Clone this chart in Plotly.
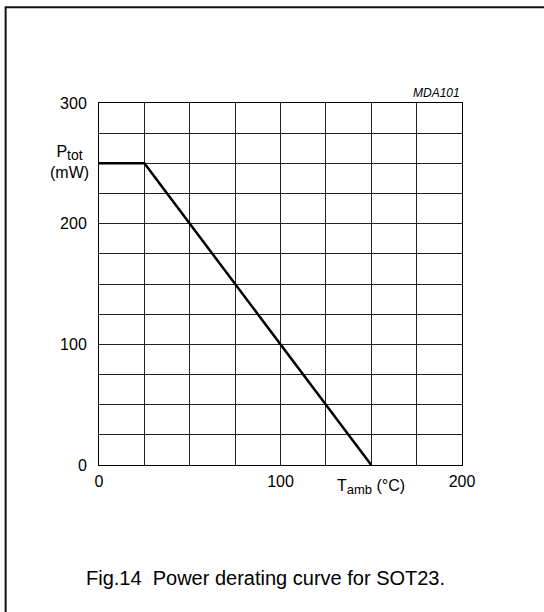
import plotly.graph_objects as go

# Power derating curve data (ambient temperature in °C, total power in mW)
t_amb = [0, 25, 150]
p_tot = [250, 250, 0]

x_ticks = [0, 100, 200]
y_ticks = [0, 100, 200, 300]

W, H = 544, 612
left, right, top, bottom = 99, 462.5, 102.5, 465
FONT = "Liberation Sans, Arial, sans-serif"

fig = go.Figure()
fig.add_trace(go.Scatter(
    x=t_amb, y=p_tot, mode="lines",
    line=dict(color="black", width=2.5),
    hoverinfo="skip", showlegend=False,
))

pw = right - left
ph = bottom - top


def px_x(p):
    return (p - left) / pw


def px_y(p):
    return (bottom - p) / ph


grid = dict(showgrid=True, gridcolor="#222", gridwidth=1, zeroline=False,
            showline=True, linecolor="black", linewidth=1, mirror=True,
            ticks="", tickfont=dict(family=FONT, size=16, color="black"))

fig.update_xaxes(range=[0, 200], tickvals=list(range(0, 201, 25)),
                 ticktext=[str(v) if v in x_ticks else "" for v in range(0, 201, 25)],
                 ticklabelstandoff=2, **grid)
fig.update_yaxes(range=[0, 300], tickvals=list(range(0, 301, 25)),
                 ticktext=[str(v) if v in y_ticks else "" for v in range(0, 301, 25)],
                 ticklabelstandoff=8, **grid)


def label(text, cx, cy, size, xanchor="center"):
    return dict(text=text, x=px_x(cx), y=px_y(cy), xref="paper", yref="paper",
                xanchor=xanchor, yanchor="middle", showarrow=False, align="center",
                font=dict(family=FONT, size=size, color="black"))


annotations = [
    label("P<sub><span style='font-size:14px'>tot</span></sub><br>(mW)", 69, 162, 16),
    label("T<sub><span style='font-size:13px'>amb</span></sub> (°C)", 371, 487, 16),
    label("<i>MDA101</i>", right, 92, 12, xanchor="right"),
    label("Fig.14  Power derating curve for SOT23.", 266, 578.5, 20),
]

# Figure frame (continues past the right and bottom edges)
shapes = [dict(type="rect", xref="paper", yref="paper",
               x0=px_x(5.5), x1=px_x(560), y0=px_y(630), y1=px_y(6.5),
               line=dict(color="#111", width=2), layer="below")]

fig.update_layout(
    width=W, height=H,
    margin=dict(l=left, r=W - right, t=top, b=H - bottom),
    paper_bgcolor="white", plot_bgcolor="white",
    annotations=annotations, shapes=shapes,
)

fig.write_html("out.html")
